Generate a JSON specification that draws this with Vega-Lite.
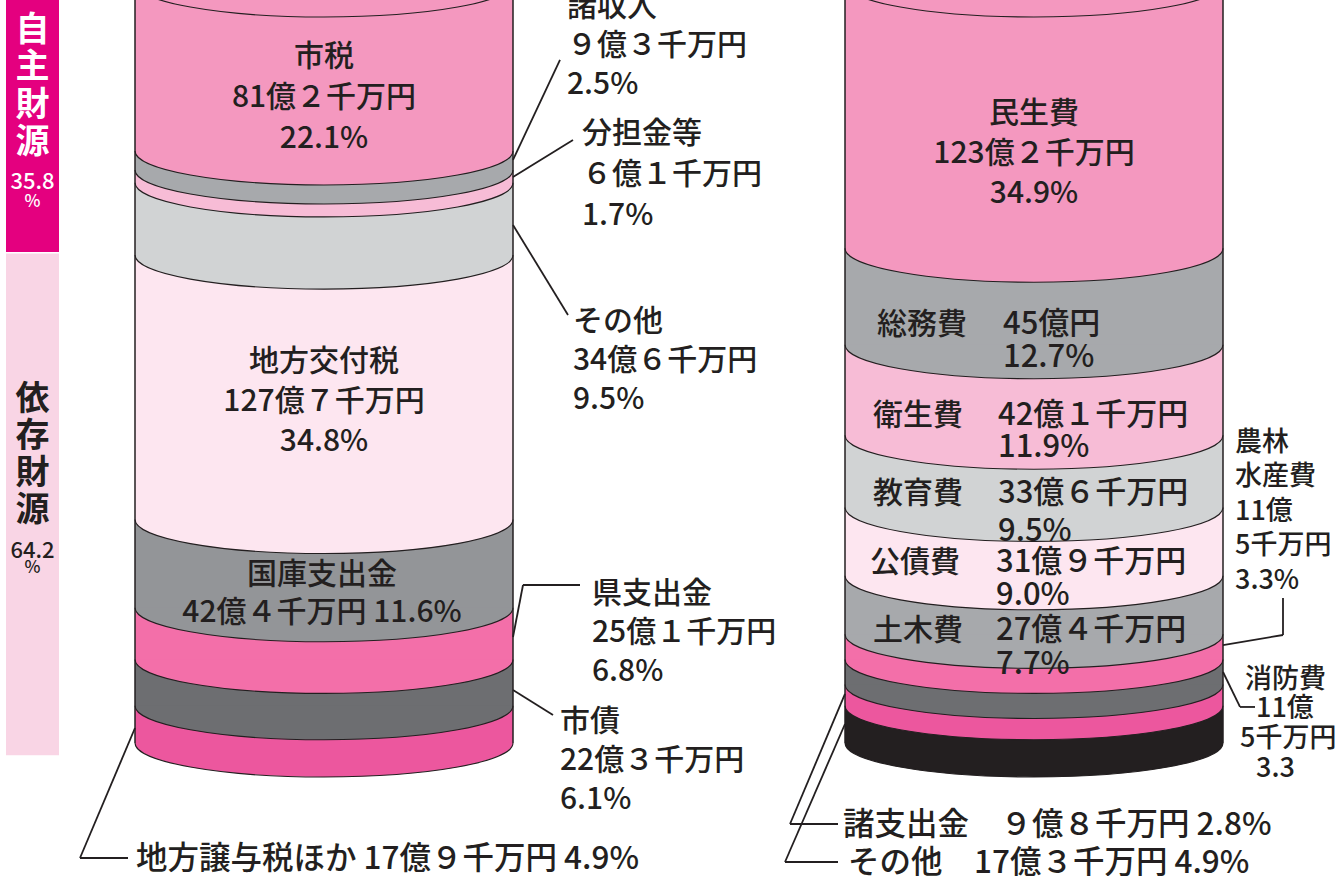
{
  "$schema": "https://vega.github.io/schema/vega-lite/v6.json",
  "width": 1342,
  "height": 876,
  "padding": 0,
  "autosize": {"type": "none"},
  "background": "#ffffff",
  "config": {
    "view": {"stroke": null},
    "axis": {"disable": true},
    "legend": {"disable": true},
    "text": {"font": "Noto Sans CJK JP", "fontSize": 30, "fontWeight": 500, "fill": "#231f20", "baseline": "alphabetic", "align": "left"},
    "rule": {"stroke": "#231f20", "strokeWidth": 1.8}
  },
  "datasets": {
    "segments": [
      {"bar": "歳入", "rank": 1, "seg": "地方譲与税ほか", "oku": 17.9, "pct": 4.9},
      {"bar": "歳入", "rank": 2, "seg": "市債", "oku": 22.3, "pct": 6.1},
      {"bar": "歳入", "rank": 3, "seg": "県支出金", "oku": 25.1, "pct": 6.8},
      {"bar": "歳入", "rank": 4, "seg": "国庫支出金", "oku": 42.4, "pct": 11.6},
      {"bar": "歳入", "rank": 5, "seg": "地方交付税", "oku": 127.7, "pct": 34.8},
      {"bar": "歳入", "rank": 6, "seg": "歳入その他", "oku": 34.6, "pct": 9.5},
      {"bar": "歳入", "rank": 7, "seg": "分担金等", "oku": 6.1, "pct": 1.7},
      {"bar": "歳入", "rank": 8, "seg": "諸収入", "oku": 9.3, "pct": 2.5},
      {"bar": "歳入", "rank": 9, "seg": "市税", "oku": 81.2, "pct": 22.1},
      {"bar": "歳出", "rank": 1, "seg": "歳出その他", "oku": 17.3, "pct": 4.9},
      {"bar": "歳出", "rank": 2, "seg": "諸支出金", "oku": 9.8, "pct": 2.8},
      {"bar": "歳出", "rank": 3, "seg": "消防費", "oku": 11.5, "pct": 3.3},
      {"bar": "歳出", "rank": 4, "seg": "農林水産費", "oku": 11.5, "pct": 3.3},
      {"bar": "歳出", "rank": 5, "seg": "土木費", "oku": 27.4, "pct": 7.7},
      {"bar": "歳出", "rank": 6, "seg": "公債費", "oku": 31.9, "pct": 9.0},
      {"bar": "歳出", "rank": 7, "seg": "教育費", "oku": 33.6, "pct": 9.5},
      {"bar": "歳出", "rank": 8, "seg": "衛生費", "oku": 42.1, "pct": 11.9},
      {"bar": "歳出", "rank": 9, "seg": "総務費", "oku": 45.0, "pct": 12.7},
      {"bar": "歳出", "rank": 10, "seg": "民生費", "oku": 123.2, "pct": 34.9}
    ]
  },
  "data": {"values": [{}]},
  "layer": [
    {
      "data": {"name": "segments"},
      "transform": [
        {"filter": {"field": "bar", "equal": "歳入"}},
        {"stack": "pct", "groupby": ["bar"], "sort": [{"field": "rank", "order": "ascending"}], "as": ["lo", "hi"]}
      ],
      "mark": {"type": "rect", "yOffset": 1.5},
      "encoding": {
        "x": {"datum": 13.5, "type": "quantitative", "scale": {"domain": [0, 134.2], "nice": false, "zero": false}, "axis": null},
        "x2": {"datum": 51.3},
        "y": {"field": "lo", "type": "quantitative", "scale": {"domain": [-17.5, 97.76], "nice": false, "zero": false}, "axis": null},
        "y2": {"datum": 100},
        "fill": {
          "field": "seg", "type": "nominal", "legend": null,
          "scale": {
            "domain": ["地方譲与税ほか", "市債", "県支出金", "国庫支出金", "地方交付税", "歳入その他", "分担金等", "諸収入", "市税", "歳出その他", "諸支出金", "消防費", "農林水産費", "土木費", "公債費", "教育費", "衛生費", "総務費", "民生費"],
            "range": ["#ec579e", "#6d6e71", "#f36fa9", "#939598", "#fde6f0", "#d1d3d4", "#f7bcd6", "#a7a9ac", "#f498bf", "#231f20", "#ec579e", "#6d6e71", "#f36fa9", "#a7a9ac", "#fde6f0", "#d1d3d4", "#f7bcd6", "#a7a9ac", "#f498bf"]
          }
        }
      }
    },
    {
      "data": {"name": "segments"},
      "transform": [
        {"filter": {"field": "bar", "equal": "歳出"}},
        {"stack": "pct", "groupby": ["bar"], "sort": [{"field": "rank", "order": "ascending"}], "as": ["lo", "hi"]}
      ],
      "mark": {"type": "rect", "yOffset": 1.5},
      "encoding": {
        "x": {"datum": 84.5},
        "x2": {"datum": 122.3},
        "y": {"field": "lo", "type": "quantitative"},
        "y2": {"datum": 100},
        "fill": {"field": "seg", "type": "nominal", "legend": null}
      }
    },
    {
      "data": {"name": "segments"},
      "transform": [
        {"filter": {"field": "bar", "equal": "歳入"}},
        {"stack": "pct", "groupby": ["bar"], "sort": [{"field": "rank", "order": "ascending"}], "as": ["lo", "hi"]}
      ],
      "mark": {"type": "point", "shape": "M -1 0 A 1 0.18 0 0 0 1 0", "size": 142884, "filled": true, "opacity": 1, "stroke": "#231f20", "strokeWidth": 1.1},
      "encoding": {
        "x": {"datum": 32.4},
        "y": {"field": "lo", "type": "quantitative"},
        "fill": {"field": "seg", "type": "nominal", "legend": null}
      }
    },
    {
      "data": {"name": "segments"},
      "transform": [
        {"filter": {"field": "bar", "equal": "歳出"}},
        {"stack": "pct", "groupby": ["bar"], "sort": [{"field": "rank", "order": "ascending"}], "as": ["lo", "hi"]}
      ],
      "mark": {"type": "point", "shape": "M -1 0 A 1 0.18 0 0 0 1 0", "size": 142884, "filled": true, "opacity": 1, "stroke": "#231f20", "strokeWidth": 1.1},
      "encoding": {
        "x": {"datum": 103.4},
        "y": {"field": "lo", "type": "quantitative"},
        "fill": {"field": "seg", "type": "nominal", "legend": null}
      }
    },
    {
      "data": {"name": "segments"},
      "transform": [{"filter": {"field": "seg", "equal": "市税"}}],
      "mark": {"type": "point", "shape": "M -1 0 A 1 0.18 0 0 0 1 0", "size": 142884, "filled": true, "opacity": 1, "stroke": "#231f20", "strokeWidth": 1.1},
      "encoding": {"x": {"datum": 32.4}, "y": {"datum": 100}, "fill": {"field": "seg", "type": "nominal", "legend": null}}
    },
    {
      "data": {"name": "segments"},
      "transform": [{"filter": {"field": "seg", "equal": "民生費"}}],
      "mark": {"type": "point", "shape": "M -1 0 A 1 0.18 0 0 0 1 0", "size": 142884, "filled": true, "opacity": 1, "stroke": "#231f20", "strokeWidth": 1.1},
      "encoding": {"x": {"datum": 103.4}, "y": {"datum": 100}, "fill": {"field": "seg", "type": "nominal", "legend": null}}
    },
    {"mark": {"type": "rule", "strokeWidth": 1.5}, "encoding": {"x": {"datum": 13.5}, "y": {"datum": 0}, "y2": {"datum": 100}}},
    {"mark": {"type": "rule", "strokeWidth": 1.5}, "encoding": {"x": {"datum": 51.3}, "y": {"datum": 0}, "y2": {"datum": 100}}},
    {"mark": {"type": "rule", "strokeWidth": 1.5}, "encoding": {"x": {"datum": 84.5}, "y": {"datum": 0}, "y2": {"datum": 100}}},
    {"mark": {"type": "rule", "strokeWidth": 1.5}, "encoding": {"x": {"datum": 122.3}, "y": {"datum": 0}, "y2": {"datum": 100}}},
    {"mark": {"type": "rect", "fill": "#e4007f"}, "encoding": {"x": {"datum": 0.6}, "x2": {"datum": 5.9}, "y": {"datum": 64.6}, "y2": {"datum": 100}}},
    {"mark": {"type": "rect", "fill": "#f9d5e5"}, "encoding": {"x": {"datum": 0.6}, "x2": {"datum": 5.9}, "y": {"datum": -1.6}, "y2": {"datum": 64.4}}},

    {"mark": "rule", "encoding": {"x": {"datum": 51.3}, "y": {"datum": 76.71}, "x2": {"datum": 56.0}, "y2": {"datum": 89.87}}},
    {"mark": "rule", "encoding": {"x": {"datum": 51.3}, "y": {"datum": 74.47}, "x2": {"datum": 57.3}, "y2": {"datum": 79.34}}},
    {"mark": "rule", "encoding": {"x": {"datum": 51.3}, "y": {"datum": 68.16}, "x2": {"datum": 56.8}, "y2": {"datum": 56.32}}},
    {"mark": "rule", "encoding": {"x": {"datum": 51.3}, "y": {"datum": 13.95}, "x2": {"datum": 52.3}, "y2": {"datum": 20.79}}},
    {"mark": "rule", "encoding": {"x": {"datum": 52.3}, "y": {"datum": 20.79}, "x2": {"datum": 58.0}, "y2": {"datum": 20.79}}},
    {"mark": "rule", "encoding": {"x": {"datum": 51.3}, "y": {"datum": 6.97}, "x2": {"datum": 55.3}, "y2": {"datum": 3.68}}},
    {"mark": "rule", "encoding": {"x": {"datum": 13.5}, "y": {"datum": 1.97}, "x2": {"datum": 8.0}, "y2": {"datum": -15.13}}},
    {"mark": "rule", "encoding": {"x": {"datum": 8.0}, "y": {"datum": -15.13}, "x2": {"datum": 12.8}, "y2": {"datum": -15.13}}},
    {"mark": "rule", "encoding": {"x": {"datum": 122.3}, "y": {"datum": 12.89}, "x2": {"datum": 128.3}, "y2": {"datum": 14.21}}},
    {"mark": "rule", "encoding": {"x": {"datum": 128.3}, "y": {"datum": 14.21}, "x2": {"datum": 128.3}, "y2": {"datum": 19.08}}},
    {"mark": "rule", "encoding": {"x": {"datum": 122.3}, "y": {"datum": 9.34}, "x2": {"datum": 124.0}, "y2": {"datum": 4.74}}},
    {"mark": "rule", "encoding": {"x": {"datum": 124.0}, "y": {"datum": 4.74}, "x2": {"datum": 125.5}, "y2": {"datum": 4.74}}},
    {"mark": "rule", "encoding": {"x": {"datum": 84.5}, "y": {"datum": 6.45}, "x2": {"datum": 79.0}, "y2": {"datum": -10.66}}},
    {"mark": "rule", "encoding": {"x": {"datum": 79.0}, "y": {"datum": -10.66}, "x2": {"datum": 83.8}, "y2": {"datum": -10.66}}},
    {"mark": "rule", "encoding": {"x": {"datum": 84.5}, "y": {"datum": 2.5}, "x2": {"datum": 78.5}, "y2": {"datum": -15.66}}},
    {"mark": "rule", "encoding": {"x": {"datum": 78.5}, "y": {"datum": -15.66}, "x2": {"datum": 83.8}, "y2": {"datum": -15.66}}},

    {"mark": {"type": "text", "align": "center", "lineHeight": 41}, "encoding": {"x": {"datum": 32.4}, "y": {"datum": 89.08}, "text": {"value": ["市税", "81億２千万円", "22.1%"]}}},
    {"mark": {"type": "text", "align": "center", "lineHeight": 40}, "encoding": {"x": {"datum": 32.4}, "y": {"datum": 48.95}, "text": {"value": ["地方交付税", "127億７千万円", "34.8%"]}}},
    {"mark": {"type": "text", "align": "center", "lineHeight": 38}, "encoding": {"x": {"datum": 32.2}, "y": {"datum": 20.92}, "text": {"value": ["国庫支出金", "42億４千万円 11.6%"]}}},
    {"mark": {"type": "text", "lineHeight": 39}, "encoding": {"x": {"datum": 56.7}, "y": {"datum": 95.66}, "text": {"value": ["諸収入", "９億３千万円", "2.5%"]}}},
    {"mark": {"type": "text", "lineHeight": 41}, "encoding": {"x": {"datum": 58.2}, "y": {"datum": 78.95}, "text": {"value": ["分担金等", "６億１千万円", "1.7%"]}}},
    {"mark": {"type": "text", "lineHeight": 39}, "encoding": {"x": {"datum": 57.3}, "y": {"datum": 54.21}, "text": {"value": ["その他", "34億６千万円", "9.5%"]}}},
    {"mark": {"type": "text", "lineHeight": 39}, "encoding": {"x": {"datum": 59.2}, "y": {"datum": 18.42}, "text": {"value": ["県支出金", "25億１千万円", "6.8%"]}}},
    {"mark": {"type": "text", "lineHeight": 39}, "encoding": {"x": {"datum": 56.0}, "y": {"datum": 1.58}, "text": {"value": ["市債", "22億３千万円", "6.1%"]}}},
    {"mark": {"type": "text", "fontSize": 31.5}, "encoding": {"x": {"datum": 13.6}, "y": {"datum": -16.58}, "text": {"value": "地方譲与税ほか 17億９千万円 4.9%"}}},

    {"mark": {"type": "text", "align": "center", "lineHeight": 40}, "encoding": {"x": {"datum": 103.4}, "y": {"datum": 81.58}, "text": {"value": ["民生費", "123億２千万円", "34.9%"]}}},
    {"mark": {"type": "text"}, "encoding": {"x": {"datum": 87.7}, "y": {"datum": 53.82}, "text": {"value": "総務費"}}},
    {"mark": {"type": "text", "lineHeight": 33, "fontSize": 31}, "encoding": {"x": {"datum": 100.3}, "y": {"datum": 53.82}, "text": {"value": ["45億円", "12.7%"]}}},
    {"mark": {"type": "text"}, "encoding": {"x": {"datum": 87.3}, "y": {"datum": 41.84}, "text": {"value": "衛生費"}}},
    {"mark": {"type": "text", "lineHeight": 32, "fontSize": 31}, "encoding": {"x": {"datum": 99.8}, "y": {"datum": 41.84}, "text": {"value": ["42億１千万円", "11.9%"]}}},
    {"mark": {"type": "text"}, "encoding": {"x": {"datum": 87.3}, "y": {"datum": 31.58}, "text": {"value": "教育費"}}},
    {"mark": {"type": "text", "lineHeight": 38, "fontSize": 31}, "encoding": {"x": {"datum": 99.8}, "y": {"datum": 31.58}, "text": {"value": ["33億６千万円", "9.5%"]}}},
    {"mark": {"type": "text"}, "encoding": {"x": {"datum": 87.0}, "y": {"datum": 22.5}, "text": {"value": "公債費"}}},
    {"mark": {"type": "text", "lineHeight": 33, "fontSize": 31}, "encoding": {"x": {"datum": 99.6}, "y": {"datum": 22.5}, "text": {"value": ["31億９千万円", "9.0%"]}}},
    {"mark": {"type": "text"}, "encoding": {"x": {"datum": 87.3}, "y": {"datum": 13.55}, "text": {"value": "土木費"}}},
    {"mark": {"type": "text", "lineHeight": 34, "fontSize": 31}, "encoding": {"x": {"datum": 99.6}, "y": {"datum": 13.55}, "text": {"value": ["27億４千万円", "7.7%"]}}},
    {"mark": {"type": "text", "fontSize": 27, "lineHeight": 34.5}, "encoding": {"x": {"datum": 123.5}, "y": {"datum": 38.42}, "text": {"value": ["農林", "水産費", "11億", " 5千万円", "3.3%"]}}},
    {"mark": {"type": "text", "fontSize": 27}, "encoding": {"x": {"datum": 124.5}, "y": {"datum": 7.24}, "text": {"value": "消防費"}}},
    {"mark": {"type": "text", "fontSize": 27}, "encoding": {"x": {"datum": 125.6}, "y": {"datum": 3.42}, "text": {"value": "11億"}}},
    {"mark": {"type": "text", "fontSize": 27}, "encoding": {"x": {"datum": 124.0}, "y": {"datum": -0.53}, "text": {"value": "5千万円"}}},
    {"mark": {"type": "text", "fontSize": 27}, "encoding": {"x": {"datum": 125.6}, "y": {"datum": -4.47}, "text": {"value": "3.3"}}},
    {"mark": {"type": "text", "fontSize": 31.5}, "encoding": {"x": {"datum": 84.3}, "y": {"datum": -12.11}, "text": {"value": "諸支出金　９億８千万円 2.8%"}}},
    {"mark": {"type": "text", "fontSize": 31.5}, "encoding": {"x": {"datum": 84.8}, "y": {"datum": -17.11}, "text": {"value": "その他　17億３千万円 4.9%"}}},

    {"mark": {"type": "text", "align": "center", "fontSize": 34, "fontWeight": "bold", "lineHeight": 37.5, "fill": "#ffffff"}, "encoding": {"x": {"datum": 3.25}, "y": {"datum": 92.37}, "text": {"value": ["自", "主", "財", "源"]}}},
    {"mark": {"type": "text", "align": "center", "fontSize": 22, "fill": "#ffffff"}, "encoding": {"x": {"datum": 3.25}, "y": {"datum": 72.89}, "text": {"value": "35.8"}}},
    {"mark": {"type": "text", "align": "center", "fontSize": 17, "fill": "#ffffff"}, "encoding": {"x": {"datum": 3.25}, "y": {"datum": 70.53}, "text": {"value": "%"}}},
    {"mark": {"type": "text", "align": "center", "fontSize": 34, "fontWeight": "bold", "lineHeight": 37, "fill": "#231f20"}, "encoding": {"x": {"datum": 3.25}, "y": {"datum": 43.82}, "text": {"value": ["依", "存", "財", "源"]}}},
    {"mark": {"type": "text", "align": "center", "fontSize": 22}, "encoding": {"x": {"datum": 3.25}, "y": {"datum": 24.34}, "text": {"value": "64.2"}}},
    {"mark": {"type": "text", "align": "center", "fontSize": 17}, "encoding": {"x": {"datum": 3.25}, "y": {"datum": 22.37}, "text": {"value": "%"}}}
  ]
}
